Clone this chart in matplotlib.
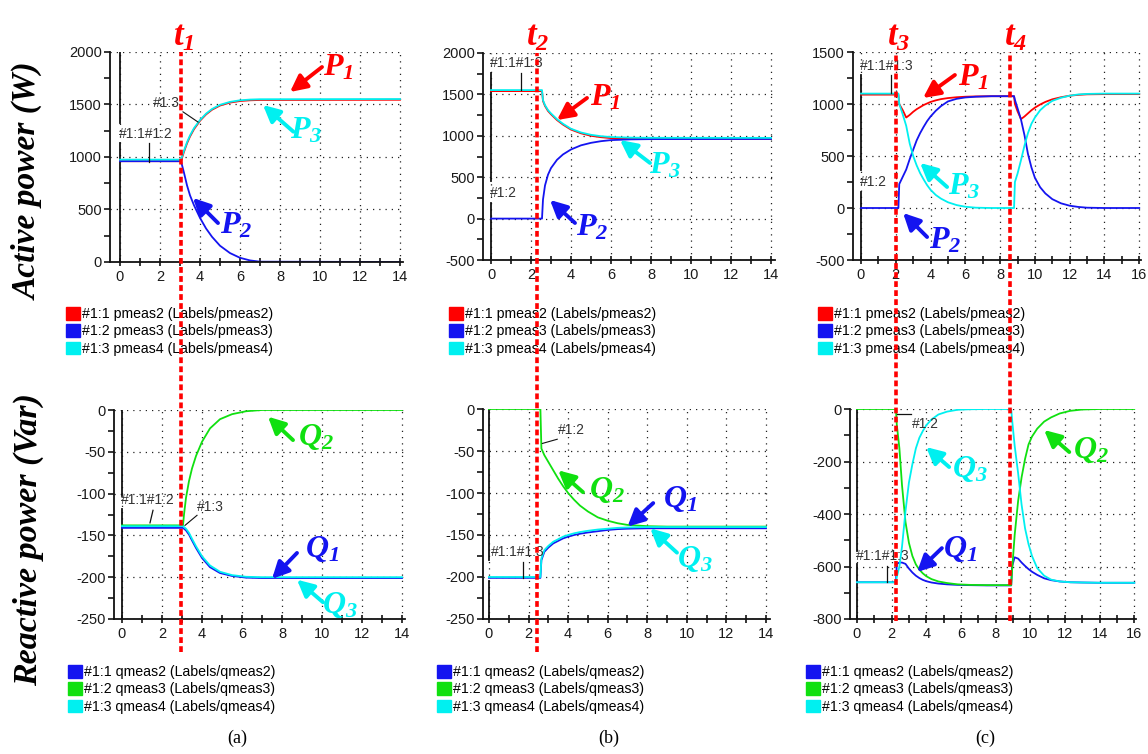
import matplotlib
matplotlib.use('Agg')
import matplotlib.pyplot as plt
from matplotlib.patches import Patch
from matplotlib.ticker import MultipleLocator

W, H = 1148, 754

plt.rcParams['font.family'] = ['Liberation Sans', 'DejaVu Sans']
plt.rcParams['axes.unicode_minus'] = False
plt.rcParams['mathtext.fontset'] = 'custom'
plt.rcParams['mathtext.it'] = 'Liberation Serif:bold:italic'
plt.rcParams['mathtext.rm'] = 'Liberation Serif:bold:italic'
plt.rcParams['mathtext.bf'] = 'Liberation Serif:bold:italic'

RED, BLUE, CYAN, GREEN = '#ff0000', '#1414f0', '#00f0f0', '#10e010'

# ---------------- data (read off the scopes) ----------------
# (a) active power, W
t_pa = [0, 3.05, 3.2, 3.35, 3.5, 3.7, 4.0, 4.3, 4.6, 5.0, 5.5, 6.0, 6.5, 7.0, 14]
p1_a = [960, 960, 1050, 1130, 1195, 1265, 1345, 1405, 1450, 1490, 1518, 1533, 1540, 1543, 1545]
p2_a = [960, 960, 850, 730, 635, 540, 420, 320, 240, 155, 85, 40, 15, 3, 0]
p3_a = [975, 975, 1060, 1140, 1205, 1275, 1352, 1412, 1457, 1497, 1525, 1540, 1547, 1550, 1552]

# (b) active power, W
t_pb = [0, 2.55, 2.6, 2.7, 2.85, 3.0, 3.3, 3.6, 4.0, 4.5, 5.0, 5.5, 6.0, 7.0, 8.0, 14]
p1_b = [1540, 1540, 1420, 1360, 1300, 1260, 1190, 1135, 1075, 1030, 1000, 983, 972, 965, 963, 962]
p2_b = [0, 0, 230, 400, 530, 610, 710, 775, 835, 885, 915, 935, 948, 957, 960, 962]
p3_b = [1552, 1552, 1430, 1370, 1310, 1270, 1200, 1145, 1085, 1040, 1012, 995, 985, 978, 976, 975]

# (c) active power, W
t_pc = [0, 2.15, 2.2, 2.4, 2.6, 2.8, 3.0, 3.2, 3.4, 3.6,
        3.8, 4.0, 4.3, 4.6, 5.0, 5.5, 6.0, 6.6, 7.5, 8.8,
        8.85, 9.0, 9.2, 9.4, 9.6, 9.8, 10.0, 10.3, 10.6, 11.0,
        11.5, 12.0, 12.5, 13.0, 14, 16]
p1_c = [1090, 1090, 1000, 940, 870, 895, 925, 950, 970, 990,
        1005, 1020, 1035, 1047, 1057, 1065, 1070, 1073, 1075, 1075,
        1000, 930, 855, 880, 910, 940, 965, 995, 1020, 1045,
        1065, 1080, 1088, 1093, 1095, 1095]
p2_c = [0, 0, 230, 300, 370, 470, 560, 650, 720, 780,
        835, 880, 935, 980, 1025, 1050, 1063, 1070, 1075, 1075,
        1040, 960, 850, 700, 520, 390, 290, 200, 140, 85,
        45, 22, 10, 3, 0, 0]
p3_c = [1100, 1100, 1000, 900, 790, 620, 500, 410, 335, 275,
        220, 175, 125, 90, 55, 28, 12, 3, 0, 0,
        250, 330, 460, 600, 720, 810, 870, 940, 985, 1030,
        1060, 1080, 1092, 1097, 1100, 1100]

# (a) reactive power, Var
t_qa = [0, 3.05, 3.1, 3.2, 3.35, 3.5, 3.7, 4.0, 4.4, 4.9, 5.5, 6.2, 7.0, 14]
q1_a = [-141, -141, -142, -144, -149, -156, -165, -177, -188, -195, -198.5, -200.5, -201, -201]
q2_a = [-138, -138, -125, -105, -85, -70, -55, -38, -22, -11, -5, -1.5, 0, 0]
q3_a = [-139, -139, -140, -142, -147, -154, -163, -175, -186, -193.5, -197.5, -199.5, -200, -200]

# (b) reactive power, Var
t_qb = [0, 2.6, 2.65, 2.8, 3.0, 3.25, 3.5, 3.75, 4.0, 4.3, 4.6, 5.0, 5.5, 6.0, 6.5, 7.0, 8.0, 9.0, 14]
q1_b = [-201, -201, -180, -170, -165, -160, -157, -154, -152, -150, -148.5, -147, -145.5, -144, -143, -142.5, -142, -142, -142]
q2_b = [0, 0, -47, -55, -63, -73, -83, -92, -100, -108, -115, -122, -129, -133, -136, -138, -139.5, -140, -140]
q3_b = [-200, -200, -178, -168, -163, -158, -155, -152, -150, -148, -146.5, -145, -143.5, -142.5, -141.5, -141, -140.5, -140.5, -140.5]

# (c) reactive power, Var
t_qc = [0, 2.25, 2.3, 2.45, 2.6, 2.8, 3.0, 3.2, 3.4, 3.6,
        3.8, 4.0, 4.3, 4.7, 5.2, 5.8, 6.5, 7.5, 8.9, 8.95,
        9.1, 9.3, 9.5, 9.7, 9.9, 10.1, 10.4, 10.8, 11.2, 11.7,
        12.3, 13.0, 14.0, 16]
q1_c = [-660, -660, -590, -585, -585, -590, -608, -623, -635, -644,
        -651, -656, -661, -665, -668, -670, -671, -672, -672, -600,
        -565, -570, -585, -598, -610, -620, -632, -645, -652, -657,
        -660, -661, -662, -662]
q2_c = [0, 0, -60, -150, -290, -430, -510, -560, -592, -612,
        -626, -637, -648, -657, -663, -668, -670, -671, -671, -615,
        -480, -350, -260, -190, -135, -105, -75, -48, -32, -17,
        -7, -2, 0, 0]
q3_c = [-660, -660, -640, -600, -525, -390, -280, -210, -150, -110,
        -84, -62, -40, -21, -10, -3, -1, 0, 0, -40,
        -140, -245, -365, -455, -515, -560, -606, -635, -650, -657,
        -660, -661, -662, -662]

p_labels = ['#1:1 pmeas2 (Labels/pmeas2)', '#1:2 pmeas3 (Labels/pmeas3)', '#1:3 pmeas4 (Labels/pmeas4)']
q_labels = ['#1:1 qmeas2 (Labels/qmeas2)', '#1:2 qmeas3 (Labels/qmeas3)', '#1:3 qmeas4 (Labels/qmeas4)']


def box(x0, y0, x1, y1):
    return [x0 / W, 1 - y1 / H, (x1 - x0) / W, (y1 - y0) / H]


def setup(ax, xlim, ylim, ymaj):
    ax.set_xlim(*xlim)
    ax.set_ylim(*ylim)
    ax.set_facecolor('none')
    for s in ['top', 'right']:
        ax.spines[s].set_visible(False)
    for s in ['left', 'bottom']:
        ax.spines[s].set_linewidth(1.3)
        ax.spines[s].set_color('#111111')
    ax.xaxis.set_major_locator(MultipleLocator(2))
    ax.xaxis.set_minor_locator(MultipleLocator(1))
    ax.yaxis.set_major_locator(MultipleLocator(ymaj))
    ax.yaxis.set_minor_locator(MultipleLocator(ymaj / 2))
    ax.tick_params(axis='x', which='both', direction='inout', length=6, width=1.1,
                   labelsize=10.5, labelcolor='#1a1a1a', pad=3)
    ax.tick_params(axis='y', which='both', direction='out', length=4, width=1.1,
                   labelsize=10.5, labelcolor='#1a1a1a', pad=2)
    ax.grid(True, which='major', color='#222222', linestyle=(0, (1, 4)), linewidth=0.9)
    ax.set_axisbelow(True)


def mark(ax, txt, color, txy, head, tail):
    ax.annotate('', xy=head, xytext=tail,
                arrowprops=dict(arrowstyle='-|>,head_length=0.5,head_width=0.25',
                                color=color, lw=2.8, mutation_scale=20,
                                shrinkA=0, shrinkB=0), annotation_clip=False)
    ax.text(txy[0], txy[1], txt, color=color, fontsize=23, ha='center', va='center',
            clip_on=False)


def tag(ax, x, y, s):
    ax.text(x, y, s, fontsize=10, color='#333333', ha='left', va='center')


def cursor(ax, segs):
    for y0, y1 in segs:
        ax.plot([0, 0], [y0, y1], color='#111111', lw=1.3)


def leg(ax, labels, colors, x, y):
    handles = [Patch(facecolor=c, edgecolor=c) for c in colors]
    ax.legend(handles, labels, loc='upper left', bbox_to_anchor=(x / W, 1 - y / H),
              bbox_transform=fig.transFigure, frameon=False, borderpad=0,
              borderaxespad=0, handlelength=1.0, handleheight=1.0,
              handletextpad=0.15, labelspacing=0.22, fontsize=10.2)


fig = plt.figure(figsize=(W / 100, H / 100), dpi=100)

# bottom row first so the red dashed markers from the top row draw over it
axd = fig.add_axes(box(114, 410, 405, 619))
axe = fig.add_axes(box(483, 409, 770, 619))
axf = fig.add_axes(box(850, 409, 1136, 619))
axa = fig.add_axes(box(110, 52, 403, 262))
axb = fig.add_axes(box(483, 53, 775, 260))
axc = fig.add_axes(box(853, 52, 1141, 260))

setup(axa, (-0.5, 14.15), (0, 2000), 500)
setup(axb, (-0.4, 14.2), (-500, 2000), 500)
setup(axc, (-0.46, 16.1), (-500, 1500), 500)
setup(axd, (-0.4, 14.15), (-250, 0), 50)
setup(axe, (-0.3, 14.2), (-250, 0), 50)
setup(axf, (-0.4, 16.1), (-800, 0), 200)

# ---- (a) P
cursor(axa, [(2000, 1324), (1133, 0)])
axa.plot(t_pa, p1_a, color=RED, lw=1.3)
axa.plot(t_pa, p2_a, color=BLUE, lw=1.3)
axa.plot(t_pa, p3_a, color=CYAN, lw=1.3)
tag(axa, -0.05, 1219, '#1:1#1:2')
axa.plot([1.45, 1.45], [1133, 952], color='#111111', lw=0.9)
tag(axa, 1.65, 1514, '#1:3')
axa.plot([3.15, 3.9], [1430, 1333], color='#111111', lw=0.8)
mark(axa, r'$P_1$', RED, (10.9, 1848), (8.5, 1619), (10.1, 1857))
mark(axa, r'$P_3$', CYAN, (9.3, 1257), (7.15, 1495), (8.67, 1241))
mark(axa, r'$P_2$', BLUE, (5.8, 343), (3.65, 610), (4.9, 371))
leg(axa, p_labels, [RED, BLUE, CYAN], 66, 307)

# ---- (b) P
cursor(axb, [(1758, 454), (188, -500)])
axb.plot(t_pb, p1_b, color=RED, lw=1.3)
axb.plot(t_pb, p2_b, color=BLUE, lw=1.3)
axb.plot(t_pb, p3_b, color=CYAN, lw=1.3)
tag(axb, -0.05, 1879, '#1:1#1:3')
axb.plot([1.5, 1.5], [1758, 1553], color='#111111', lw=0.9)
tag(axb, -0.05, 309, '#1:2')
mark(axb, r'$P_1$', RED, (5.7, 1457), (3.3, 1190), (4.8, 1457))
mark(axb, r'$P_3$', CYAN, (8.7, 647), (6.45, 949), (7.95, 672))
mark(axb, r'$P_2$', BLUE, (5.05, -113), (2.95, 225), (4.2, -53))
leg(axb, p_labels, [RED, BLUE, CYAN], 449, 307)

# ---- (c) P
cursor(axc, [(1279, 365), (154, -500)])
axc.plot(t_pc, p1_c, color=RED, lw=1.3)
axc.plot(t_pc, p2_c, color=BLUE, lw=1.3)
axc.plot(t_pc, p3_c, color=CYAN, lw=1.3)
tag(axc, -0.05, 1365, '#1:1#1:3')
axc.plot([1.73, 1.73], [1279, 1106], color='#111111', lw=0.9)
tag(axc, -0.05, 250, '#1:2')
mark(axc, r'$P_1$', RED, (6.45, 1250), (3.57, 1058), (5.4, 1279))
mark(axc, r'$P_3$', CYAN, (5.93, 202), (3.4, 433), (4.95, 202))
mark(axc, r'$P_2$', BLUE, (4.83, -308), (2.42, -48), (3.8, -279))
leg(axc, p_labels, [RED, BLUE, CYAN], 818, 307)

# ---- (a) Q
cursor(axd, [(0, -103), (-118, -250)])
axd.plot(t_qa, q1_a, color=BLUE, lw=1.3)
axd.plot(t_qa, q2_a, color=GREEN, lw=1.3)
axd.plot(t_qa, q3_a, color=CYAN, lw=1.3)
tag(axd, -0.05, -108, '#1:1#1:2')
axd.plot([1.55, 1.4], [-120, -135], color='#111111', lw=0.9)
tag(axd, 3.75, -116, '#1:3')
axd.plot([3.75, 3.15], [-126, -138], color='#111111', lw=0.8)
mark(axd, r'$Q_2$', GREEN, (9.7, -32), (7.3, -8), (8.55, -36))
mark(axd, r'$Q_1$', BLUE, (10.0, -166), (7.5, -202), (8.75, -171))
mark(axd, r'$Q_3$', CYAN, (10.9, -233), (8.75, -203), (10.05, -230))
leg(axd, q_labels, [BLUE, GREEN, CYAN], 68, 665)

# ---- (b) Q
cursor(axe, [(0, -180), (-205, -250)])
axe.plot(t_qb, q1_b, color=BLUE, lw=1.3)
axe.plot(t_qb, q2_b, color=GREEN, lw=1.3)
axe.plot(t_qb, q3_b, color=CYAN, lw=1.3)
tag(axe, 3.5, -25, '#1:2')
axe.plot([3.45, 2.7], [-36, -41], color='#111111', lw=0.8)
tag(axe, 0.1, -170, '#1:1#1:3')
axe.plot([1.7, 1.7], [-182, -201], color='#111111', lw=0.9)
mark(axe, r'$Q_2$', GREEN, (5.95, -96), (3.5, -73), (4.75, -99))
mark(axe, r'$Q_1$', BLUE, (9.65, -107), (7.0, -140), (8.3, -112))
mark(axe, r'$Q_3$', CYAN, (10.4, -178), (8.15, -142), (9.5, -171))
leg(axe, q_labels, [BLUE, GREEN, CYAN], 437, 665)

# ---- (c) Q
cursor(axf, [(0, -540), (-590, -800)])
axf.plot(t_qc, q1_c, color=BLUE, lw=1.3)
axf.plot(t_qc, q2_c, color=GREEN, lw=1.3)
axf.plot(t_qc, q3_c, color=CYAN, lw=1.3)
tag(axf, 3.2, -57, '#1:2')
axf.plot([2.3, 3.1], [-19, -19], color='#111111', lw=0.9)
tag(axf, -0.05, -560, '#1:1#1:3')
axf.plot([1.73, 1.73], [-598, -659], color='#111111', lw=0.9)
mark(axf, r'$Q_1$', BLUE, (5.95, -533), (3.47, -621), (4.9, -530))
mark(axf, r'$Q_3$', CYAN, (6.53, -229), (3.99, -145), (5.32, -221))
mark(axf, r'$Q_2$', GREEN, (13.5, -156), (10.8, -80), (12.25, -164))
leg(axf, q_labels, [BLUE, GREEN, CYAN], 806, 665)

# ---- event markers t1..t4 spanning both rows
dash = dict(color=RED, lw=2.6, ls=(0, (1.6, 0.9)), clip_on=False, zorder=20)
axa.axvline(3.05, ymin=(262 - 652) / 210, ymax=1.0, **dash)
axb.axvline(2.32, ymin=(260 - 652) / 207, ymax=1.0, **dash)
axc.axvline(2.0, ymin=(260 - 621) / 208, ymax=1.0, **dash)
axc.axvline(8.58, ymin=(260 - 621) / 208, ymax=1.0, **dash)

for s, x in [(r'$t_1$', 173), (r'$t_2$', 526), (r'$t_3$', 887), (r'$t_4$', 1004)]:
    fig.text(x / W, 1 - 37 / H, s, color=RED, fontsize=25, ha='left', va='center')

serif = ['Liberation Serif', 'DejaVu Serif']
fig.text(28 / W, 1 - 181 / H, 'Active power (W)', rotation=90, ha='center', va='center',
         fontsize=24, family=serif, style='italic', weight='bold')
fig.text(28 / W, 1 - 540 / H, 'Reactive power (Var)', rotation=90, ha='center', va='center',
         fontsize=24.5, family=serif, style='italic', weight='bold')
for s, x in [('(a)', 237), ('(b)', 609), ('(c)', 985)]:
    fig.text(x / W, 1 - 738 / H, s, ha='center', va='center', fontsize=13, family=serif)

fig.savefig('out.png', dpi=100)
